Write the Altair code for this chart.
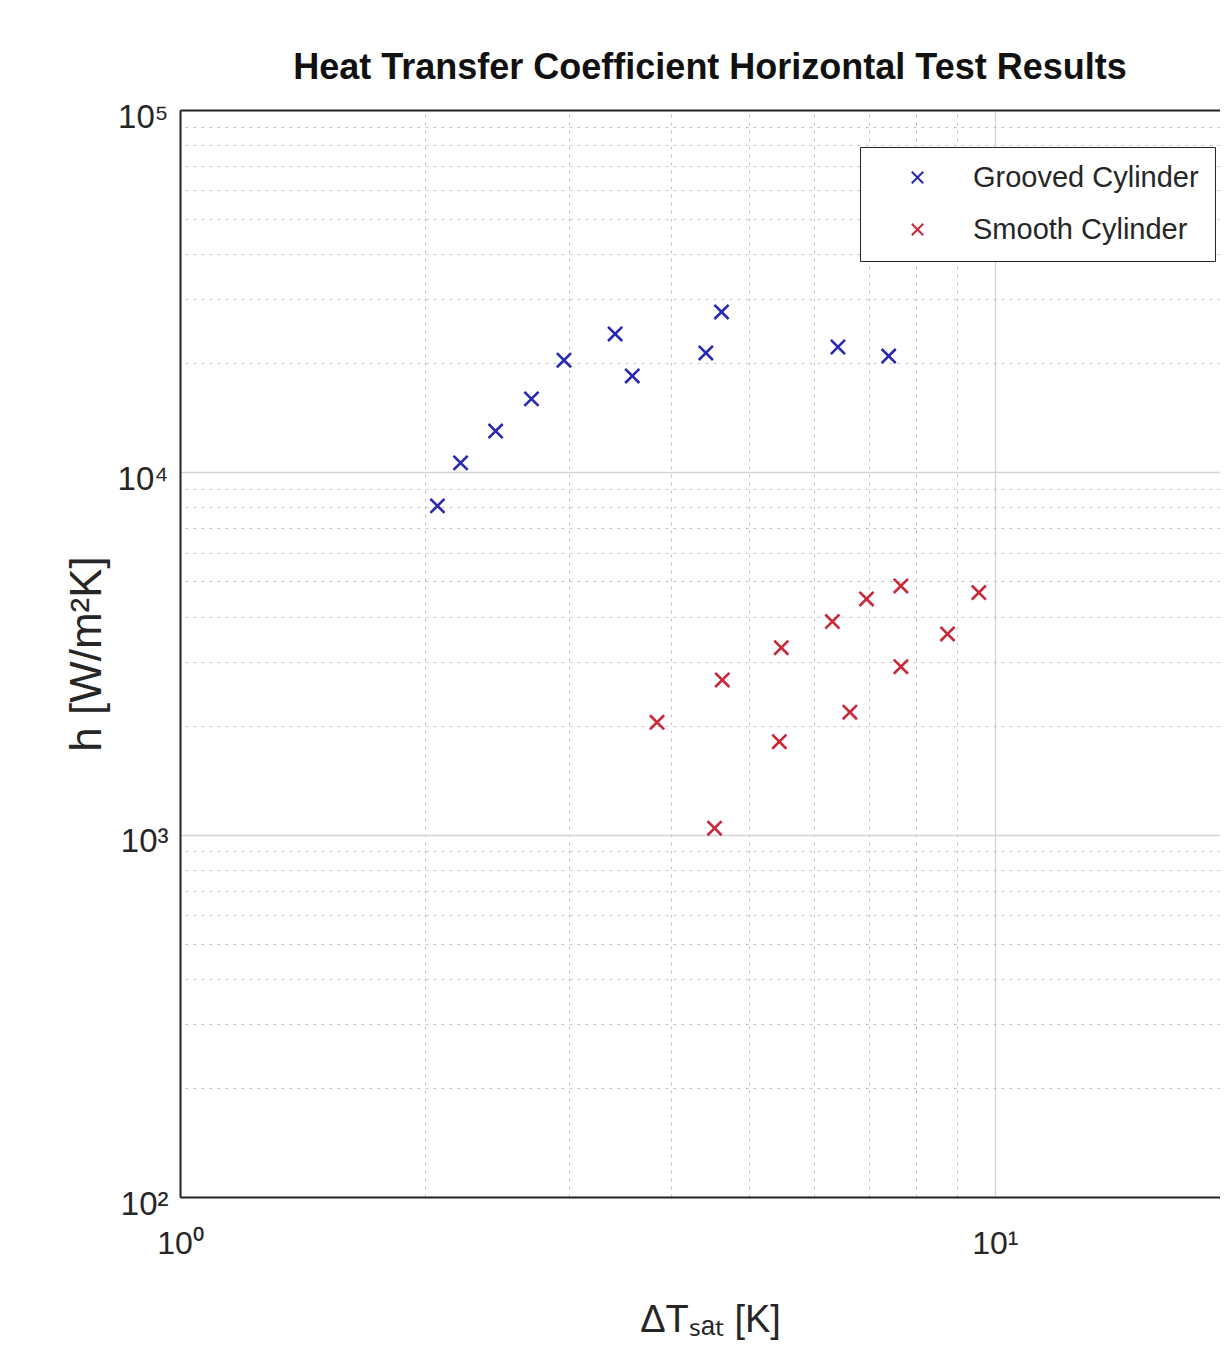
import altair as alt
import pandas as pd

# ---- data ----
series_names = ["Grooved Cylinder", "Smooth Cylinder"]
series_colors = ["#2828b4", "#c92838"]

grooved_dt = [2.07, 2.21, 2.44, 2.70, 2.96, 3.42, 3.59, 4.42, 4.62, 6.42, 7.41]
grooved_h = [8080, 10620, 13000, 15950, 20400, 24100, 18450, 21360, 27710, 22180, 20940]

smooth_dt = [3.85, 4.63, 4.53, 5.47, 5.44, 6.32, 6.64, 6.96, 7.67, 7.67, 8.75, 9.56]
smooth_h = [2042, 2674, 1042, 3282, 1806, 3874, 2178, 4474, 4858, 2909, 3581, 4658]

x_major = [1, 10]
x_minor = [2, 3, 4, 5, 6, 7, 8, 9]
y_major = [100, 1000, 10000, 100000]
y_minor = [200, 300, 400, 500, 600, 700, 800, 900,
           2000, 3000, 4000, 5000, 6000, 7000, 8000, 9000,
           20000, 30000, 40000, 50000, 60000, 70000, 80000, 90000]

x_domain = [1, 18.9]
y_domain = [100, 100000]

title_text = "Heat Transfer Coefficient Horizontal Test Results"
x_title = "ΔTₛₐₜ [K]"
y_title = "h [W/m²K]"

# ---- build table ----
df = pd.concat([
    pd.DataFrame({"dt": grooved_dt, "h": grooved_h, "series": series_names[0]}),
    pd.DataFrame({"dt": smooth_dt, "h": smooth_h, "series": series_names[1]}),
], ignore_index=True)

SUP = {"0": "⁰", "1": "¹", "2": "²", "3": "³", "4": "⁴", "5": "⁵"}


def label_expr(values):
    parts = []
    for v in values:
        e = str(len(str(int(v))) - 1)
        parts.append(f"datum.value == {v} ? '10{SUP[e]}'")
    return " : ".join(parts) + " : ''"


FONT = "Liberation Sans, Arial, sans-serif"
XPATH = "M-1,-1L1,1M-1,1L1,-1"
W, H = 1040, 1087
DARK = "#262626"

x_scale = alt.Scale(type="log", domain=x_domain, nice=False)
y_scale = alt.Scale(type="log", domain=y_domain, nice=False)

minor_grid = dict(grid=True, gridColor="#c4c4c4", gridDash=[3, 5], gridWidth=1,
                  labels=False, ticks=False, title=None)

points = alt.Chart(df).mark_point(shape=XPATH, filled=False, strokeWidth=2.6, size=200,
                                  opacity=1).encode(
    x=alt.X("dt:Q", scale=x_scale,
            axis=alt.Axis(orient="top", values=x_minor, domain=True, domainColor=DARK,
                          domainWidth=2, **minor_grid)),
    y=alt.Y("h:Q", scale=y_scale,
            axis=alt.Axis(orient="right", values=y_minor, domain=False, **minor_grid)),
    color=alt.Color("series:N", scale=alt.Scale(domain=series_names, range=series_colors),
                    legend=alt.Legend(title=None, orient="none", legendX=680, legendY=37,
                                      direction="vertical", symbolType=XPATH, symbolSize=130,
                                      symbolStrokeWidth=2, symbolOpacity=1,
                                      labelFont=FONT, labelFontSize=29, labelLimit=0,
                                      labelColor=DARK, strokeColor=DARK, fillColor="white",
                                      padding=16, rowPadding=22, symbolOffset=27,
                                      labelOffset=41)),
)

major = alt.Chart(df).mark_point(opacity=0).encode(
    x=alt.X("dt:Q", scale=x_scale,
            axis=alt.Axis(orient="bottom", values=x_major, grid=True, gridColor="#d4d4d4",
                          gridWidth=1.3, domain=True, domainColor=DARK, domainWidth=2,
                          ticks=False, labelExpr=label_expr(x_major), labelFont=FONT,
                          labelFontSize=32, labelColor=DARK, labelPadding=31,
                          labelFlush=False, labelOverlap=False, labelLimit=0,
                          title=x_title, titleFont=FONT, titleFontSize=38,
                          titleFontWeight="normal", titleColor=DARK, titleX=530, titleY=134,
                          titleBaseline="alphabetic")),
    y=alt.Y("h:Q", scale=y_scale,
            axis=alt.Axis(orient="left", values=y_major, grid=True, gridColor="#d4d4d4",
                          gridWidth=1.3, domain=True, domainColor=DARK, domainWidth=2,
                          ticks=False, labelExpr=label_expr(y_major), labelFont=FONT,
                          labelFontSize=33, labelColor=DARK, labelPadding=12,
                          labelBaseline="middle", labelOffset=7, labelLimit=0,
                          labelFlush=False, labelOverlap=False,
                          title=y_title, titleFont=FONT, titleFontSize=44,
                          titleFontWeight="normal", titleColor=DARK, titleX=-80,
                          titleBaseline="alphabetic", titleAngle=270)),
)

chart = alt.layer(points, major).resolve_axis(x="independent", y="independent").properties(
    width=W, height=H,
    title=alt.TitleParams(title_text, font=FONT, fontSize=36, fontWeight="bold",
                          color="#111111", anchor="middle", offset=14, dx=10),
    autosize=alt.AutoSizeParams(type="none"),
    padding={"left": 172, "top": 102, "right": 0, "bottom": 145},
).configure_view(stroke=None).configure(background="white")

chart.save("out.html", embed_options={"renderer": "svg", "actions": False})
